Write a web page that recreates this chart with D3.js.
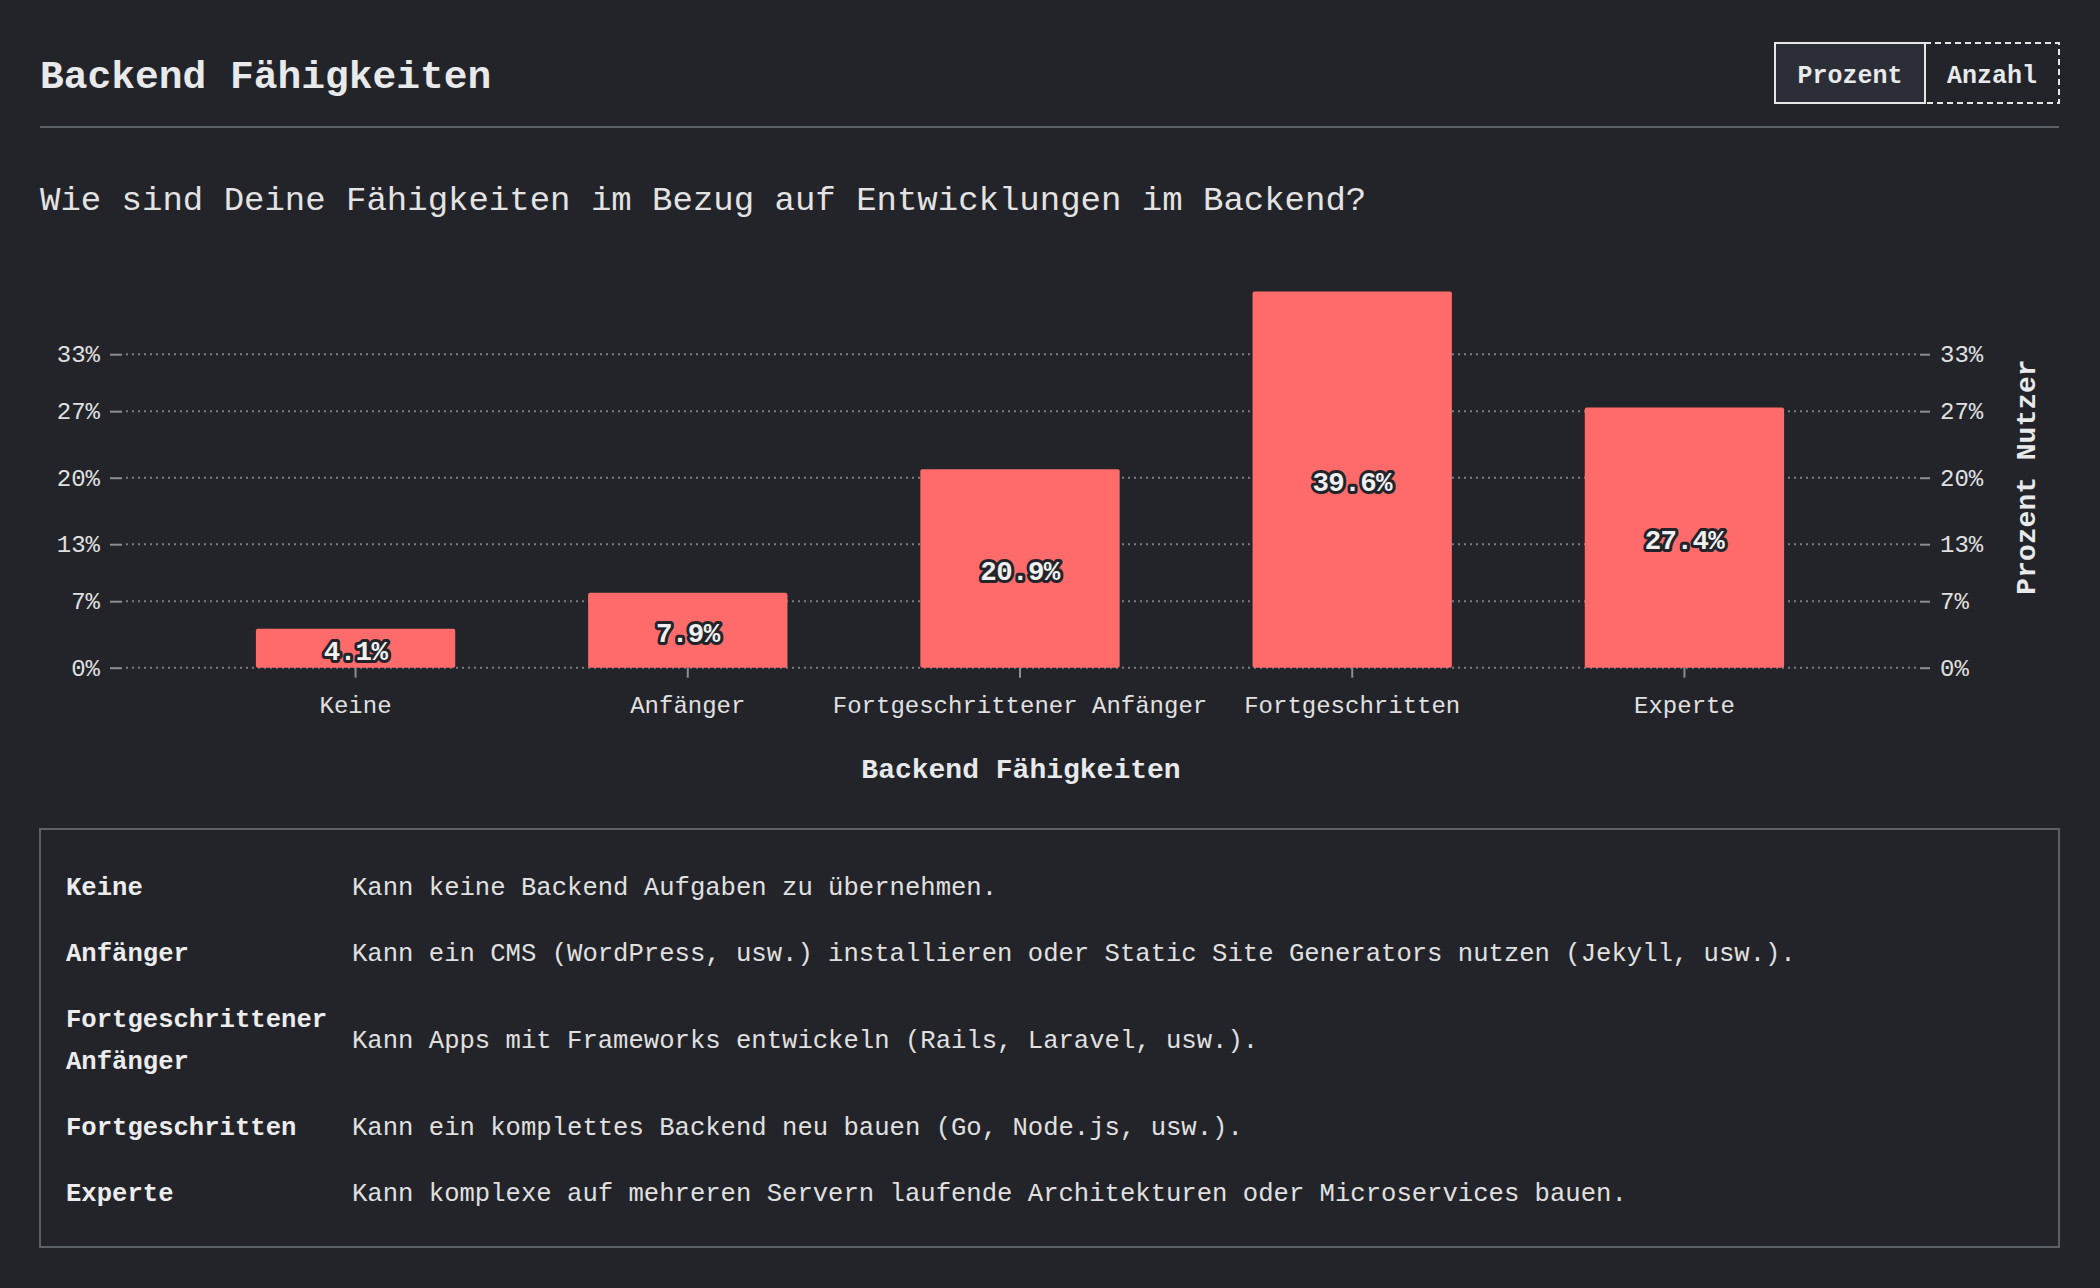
<!DOCTYPE html>
<html><head><meta charset="utf-8">
<script src="https://cdn.jsdelivr.net/npm/d3@7"></script>
<style>
html,body{margin:0;padding:0;background:#232429;}
svg{display:block;}
text{font-family:"Liberation Mono","DejaVu Sans Mono",monospace;}
</style></head><body>
<svg id="chart" width="2100" height="1288"></svg>
<script>
const categories = ["Keine","Anfänger","Fortgeschrittener Anfänger","Fortgeschritten","Experte"];
const percentages = [4.1, 7.9, 20.9, 39.6, 27.4];
const yTicks = [0, 7, 13, 20, 27, 33];
const descriptions = [
  "Kann keine Backend Aufgaben zu übernehmen.",
  "Kann ein CMS (WordPress, usw.) installieren oder Static Site Generators nutzen (Jekyll, usw.).",
  "Kann Apps mit Frameworks entwickeln (Rails, Laravel, usw.).",
  "Kann ein komplettes Backend neu bauen (Go, Node.js, usw.).",
  "Kann komplexe auf mehreren Servern laufende Architekturen oder Microservices bauen."
];
const titleText = "Backend Fähigkeiten";
const subtitleText = "Wie sind Deine Fähigkeiten im Bezug auf Entwicklungen im Backend?";
const toggleLabels = ["Prozent", "Anzahl"];
const xAxisTitle = "Backend Fähigkeiten";
const yAxisTitle = "Prozent Nutzer";

const svg = d3.select("#chart");
const BG = "#232429", FG = "#e8e9ea", GRID = "#7a7c81", TICK = "#8c8e92", LINE = "#5c5f66", BAR = "#ff6b6b";

svg.append("rect").attr("width", 2100).attr("height", 1288).attr("fill", BG);

// Header
svg.append("text").attr("x", 40).attr("y", 88).text(titleText)
  .attr("font-size", 39.6).attr("font-weight", "bold").attr("fill", FG);
svg.append("line").attr("x1", 40).attr("x2", 2059).attr("y1", 127).attr("y2", 127)
  .attr("stroke", LINE).attr("stroke-width", 2);

// Toggle buttons
const btns = [{x0: 1775, x1: 1925, active: true}, {x0: 1925, x1: 2059, active: false}];
btns.forEach((b, i) => {
  svg.append("rect").attr("x", b.x0).attr("y", 43).attr("width", b.x1 - b.x0).attr("height", 60)
    .attr("fill", b.active ? "#2b2e36" : BG).attr("stroke", "#e6e6e6").attr("stroke-width", 2)
    .attr("stroke-dasharray", b.active ? null : "6,4");
  svg.append("text").attr("x", (b.x0 + b.x1) / 2).attr("y", 83).attr("text-anchor", "middle")
    .attr("font-size", 25).attr("font-weight", "bold").attr("fill", FG).text(toggleLabels[i]);
});
svg.append("rect").attr("x", 1775).attr("y", 43).attr("width", 150).attr("height", 60)
  .attr("fill", "none").attr("stroke", "#e6e6e6").attr("stroke-width", 2);

svg.append("text").attr("x", 40).attr("y", 210).text(subtitleText)
  .attr("font-size", 34).attr("fill", "#e3e3e3");

// Scales
const left = 122, right = 1920;
const x = d3.scaleBand().domain(categories).range([123, 1917]).padding(0.4);
const y = d3.scaleLinear().domain([0, d3.max(percentages)]).range([667.7, 291.5]);

// Grid
svg.append("g").selectAll("line").data(yTicks).join("line")
  .attr("x1", left + 4).attr("x2", right).attr("y1", d => y(d)).attr("y2", d => y(d))
  .attr("stroke", GRID).attr("stroke-width", 2).attr("stroke-dasharray", "2,4");

// Axes
function styleAxis(g) {
  g.select(".domain").remove();
  g.selectAll(".tick line").attr("stroke", TICK).attr("stroke-width", 2);
  g.selectAll(".tick text").attr("fill", "#e0e0e0").attr("font-size", 24)
    .attr("font-family", '"Liberation Mono","DejaVu Sans Mono",monospace');
}
svg.append("g").attr("transform", `translate(${left},0)`)
  .call(d3.axisLeft(y).tickValues(yTicks).tickFormat(d => d + "%").tickSize(12).tickPadding(10))
  .call(styleAxis);
svg.append("g").attr("transform", `translate(${right},0)`)
  .call(d3.axisRight(y).tickValues(yTicks).tickFormat(d => d + "%").tickSize(10).tickPadding(10))
  .call(styleAxis);

// Bars
svg.append("g").selectAll("rect").data(categories).join("rect")
  .attr("x", d => x(d)).attr("width", x.bandwidth())
  .attr("y", (d, i) => y(percentages[i])).attr("height", (d, i) => y(0) - y(percentages[i]))
  .attr("rx", 2).attr("fill", BAR);

svg.append("g").attr("transform", `translate(0,${y(0)})`)
  .call(d3.axisBottom(x).tickSize(10).tickPadding(18))
  .call(styleAxis);

// Value labels
svg.append("g").selectAll("text").data(categories).join("text")
  .attr("x", d => x(d) + x.bandwidth() / 2)
  .attr("y", (d, i) => (y(percentages[i]) + y(0)) / 2 + 4)
  .attr("text-anchor", "middle").attr("dominant-baseline", "central")
  .attr("font-size", 27.5).attr("font-weight", "bold").attr("letter-spacing", -0.6)
  .attr("fill", "#f0f0f0").attr("stroke", BG).attr("stroke-width", 6)
  .attr("stroke-linejoin", "round").attr("paint-order", "stroke")
  .text((d, i) => percentages[i].toFixed(1) + "%");

// Axis titles
svg.append("text").attr("x", (left + right) / 2).attr("y", 778).attr("text-anchor", "middle")
  .attr("font-size", 28).attr("font-weight", "bold").attr("fill", FG).text(xAxisTitle);
svg.append("text").attr("transform", "translate(2035,477) rotate(-90)").attr("text-anchor", "middle")
  .attr("font-size", 28).attr("font-weight", "bold").attr("fill", FG).text(yAxisTitle);

// Legend box
svg.append("rect").attr("x", 40).attr("y", 829).attr("width", 2019).attr("height", 418)
  .attr("fill", "none").attr("stroke", LINE).attr("stroke-width", 2);

const measurer = svg.append("text").attr("font-size", 25.6).attr("font-weight", "bold").attr("visibility", "hidden");
function wrap(label, maxW) {
  const words = label.split(" "); const lines = []; let cur = "";
  words.forEach(w => {
    const t = cur ? cur + " " + w : w;
    measurer.text(t);
    if (measurer.node().getComputedTextLength() > maxW && cur) { lines.push(cur); cur = w; }
    else cur = t;
  });
  if (cur) lines.push(cur);
  return lines;
}
const lineH = 42, rowPad = 24;
let cursor = 855;
const legend = svg.append("g");
categories.forEach((c, i) => {
  const lines = wrap(c, 275);
  const h = lines.length * lineH + rowPad;
  const cy = cursor + h / 2;
  lines.forEach((l, j) => {
    legend.append("text").attr("x", 66).attr("y", cy + (j - (lines.length - 1) / 2) * lineH)
      .attr("dominant-baseline", "central").attr("font-size", 25.6).attr("font-weight", "bold")
      .attr("fill", "#ececec").text(l);
  });
  legend.append("text").attr("x", 352).attr("y", cy).attr("dominant-baseline", "central")
    .attr("font-size", 25.6).attr("fill", "#e0e0e0").text(descriptions[i]);
  cursor += h;
});
measurer.remove();
</script>
</body></html>
